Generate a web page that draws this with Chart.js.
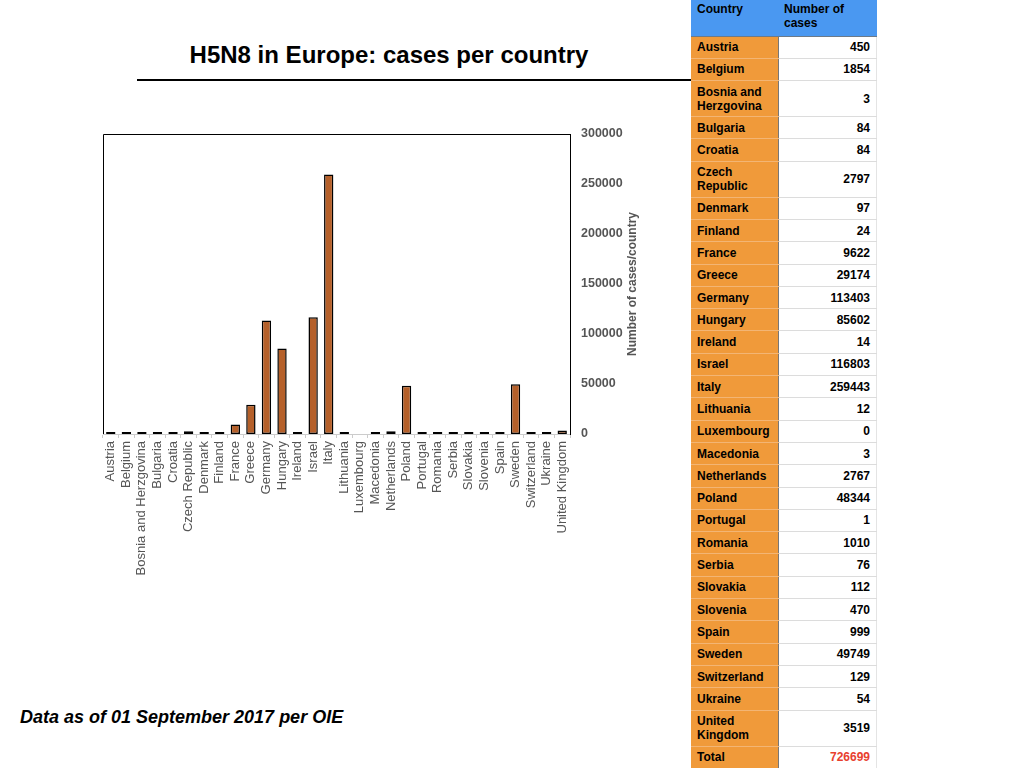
<!DOCTYPE html>
<html lang="en">
<head>
    <meta charset="UTF-8">
    <title>H5N8 in Europe: cases per country</title>
    <script src="https://cdn.jsdelivr.net/npm/chart.js@4.4.1/dist/chart.umd.min.js"></script>
    <style>
        body { margin: 0; width: 1024px; height: 768px; position: relative; background: #fff; font-family: "Liberation Sans", Arial, sans-serif; overflow: hidden; }
        h1 { position: absolute; left: 137px; width: 504px; top: 40px; margin: 0; font-size: 24px; font-weight: bold; text-align: center; color: #000; line-height: 30px; }
        .rule { position: absolute; left: 137px; top: 79px; width: 554px; height: 2px; background: #000; }
        .chart-box { position: absolute; left: 90px; top: 120px; width: 570px; height: 470px; }
        .note { position: absolute; left: 20px; top: 707px; font-size: 18px; font-weight: bold; font-style: italic; color: #000; }
        table { position: absolute; left: 691px; top: 0; width: 186px; border-collapse: collapse; font-size: 12px; font-weight: bold; color: #000; }
        td, th { padding: 3.5px 6px; line-height: 14px; vertical-align: middle; box-sizing: border-box; }
        th { background: #4a98f1; text-align: left; vertical-align: top; height: 36px; padding-top: 2px; border-bottom: 1px solid #6d7a88; font-weight: bold; }
        td.name { width: 87px; background: #f09a3a; border-bottom: 1px solid #f3b574; border-right: 1px solid #777; }
        td.num { text-align: right; border-bottom: 1px solid #dcdcdc; border-right: 1px solid #e4e4e4; }
        tbody tr { height: 22.3px; }
        td.total { color: #e8402e; }
    </style>
</head>
<body>
    <h1>H5N8 in Europe: cases per country</h1>
    <div class="rule"></div>
    <div class="chart-box"><canvas id="chart"></canvas></div>
    <div class="note">Data as of 01 September 2017 per OIE</div>
    <table id="cases">
        <thead><tr><th style="width:87px">Country</th><th>Number of cases</th></tr></thead>
        <tbody></tbody>
    </table>

    <script>
        const countries = ['Austria', 'Belgium', 'Bosnia and Herzgovina', 'Bulgaria', 'Croatia', 'Czech Republic',
            'Denmark', 'Finland', 'France', 'Greece', 'Germany', 'Hungary', 'Ireland', 'Israel', 'Italy',
            'Lithuania', 'Luxembourg', 'Macedonia', 'Netherlands', 'Poland', 'Portugal', 'Romania', 'Serbia',
            'Slovakia', 'Slovenia', 'Spain', 'Sweden', 'Switzerland', 'Ukraine', 'United Kingdom'];
        const cases = [450, 1854, 3, 84, 84, 2797, 97, 24, 9622, 29174, 113403, 85602, 14, 116803, 259443,
            12, 0, 3, 2767, 48344, 1, 1010, 76, 112, 470, 999, 49749, 129, 54, 3519];
        const yTicks = [0, 50000, 100000, 150000, 200000, 250000, 300000];
        const yTitle = 'Number of cases/country';

        // table on the right
        const tbody = document.querySelector('#cases tbody');
        countries.forEach((c, i) => {
            const tr = document.createElement('tr');
            tr.innerHTML = '<td class="name">' + c + '</td><td class="num">' + cases[i] + '</td>';
            tbody.appendChild(tr);
        });
        const total = cases.reduce((a, b) => a + b, 0);
        const trTotal = document.createElement('tr');
        trTotal.innerHTML = '<td class="name">Total</td><td class="num total">' + total + '</td>';
        tbody.appendChild(trTotal);

        // black frame on top and left of the plot, y title reading upward
        const framePlugin = {
            id: 'frame',
            afterDraw(chart) {
                const { ctx, chartArea: a } = chart;
                ctx.save();
                ctx.strokeStyle = '#000';
                ctx.lineWidth = 1;
                ctx.beginPath();
                ctx.moveTo(a.left + 0.5, a.bottom);
                ctx.lineTo(a.left + 0.5, a.top + 0.5);
                ctx.lineTo(a.right, a.top + 0.5);
                ctx.stroke();
                const y = chart.scales.y;
                ctx.translate(y.right - 27, (y.top + y.bottom) / 2);
                ctx.rotate(-Math.PI / 2);
                ctx.fillStyle = '#555';
                ctx.font = 'bold 12px "Liberation Sans", Arial, sans-serif';
                ctx.textAlign = 'center';
                ctx.textBaseline = 'middle';
                ctx.fillText(yTitle, 0, 0);
                ctx.restore();
            }
        };

        new Chart(document.getElementById('chart'), {
            type: 'bar',
            data: {
                labels: countries,
                datasets: [{
                    data: cases,
                    backgroundColor: c => c.raw === 0 ? 'rgba(0,0,0,0)' : '#b5602a',
                    borderColor: c => c.raw === 0 ? 'rgba(0,0,0,0)' : '#000',
                    borderWidth: 1.5,
                    borderSkipped: false,
                    minBarLength: 2,
                    barPercentage: 0.6,
                    categoryPercentage: 1
                }]
            },
            options: {
                responsive: true,
                maintainAspectRatio: false,
                animation: false,
                layout: { padding: { left: 13, top: 14, right: 0, bottom: 0 } },
                plugins: { legend: { display: false }, tooltip: { enabled: false } },
                scales: {
                    x: {
                        grid: { offset: true, drawOnChartArea: false, color: '#ccc', tickLength: 4 },
                        border: { color: '#ccc', width: 1 },
                        ticks: {
                            autoSkip: false, maxRotation: 90, minRotation: 90, padding: 3,
                            color: '#555', font: { family: '"Liberation Sans", Arial, sans-serif', size: 13 }
                        },
                        afterFit: s => { s.height = 156; }
                    },
                    y: {
                        position: 'right',
                        min: 0,
                        max: 300000,
                        afterBuildTicks: s => { s.ticks = yTicks.map(v => ({ value: v })); },
                        grid: { display: false, drawTicks: false },
                        border: { color: '#000', width: 1 },
                        ticks: {
                            padding: 11, color: '#555',
                            callback: v => String(v),
                            font: { family: '"Liberation Sans", Arial, sans-serif', size: 12.5, weight: 'bold' }
                        },
                        afterFit: s => { s.width = 90; s.paddingTop = 0; s.paddingBottom = 0; }
                    }
                }
            },
            plugins: [framePlugin]
        });
    </script>
</body>
</html>
